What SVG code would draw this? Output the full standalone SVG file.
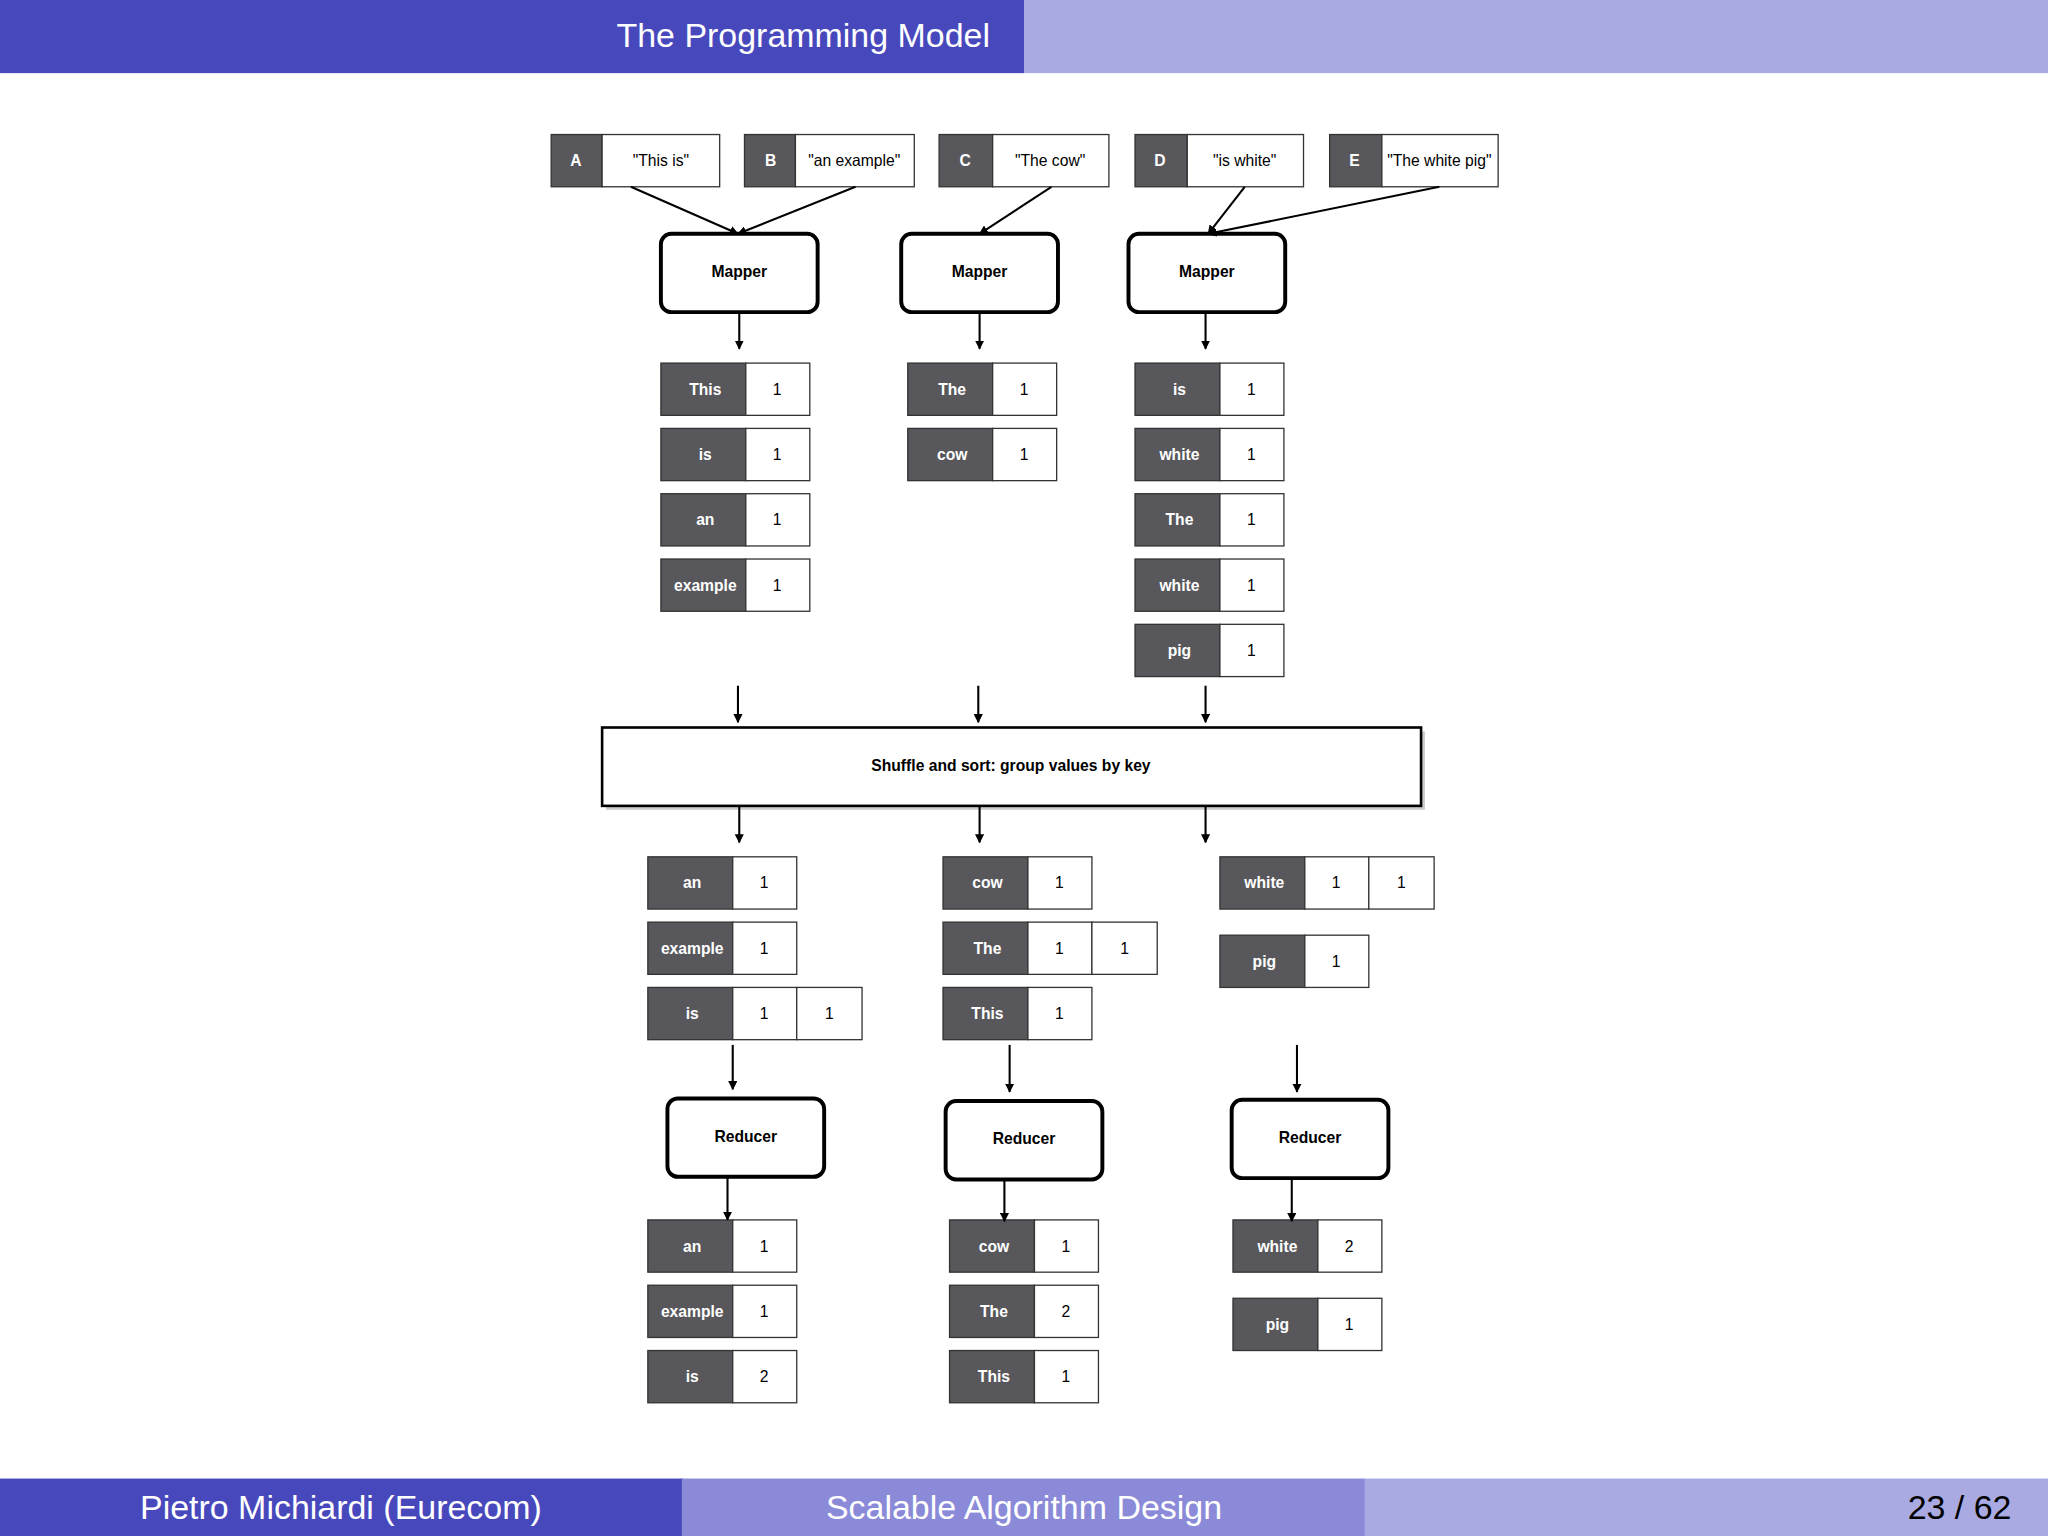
<svg xmlns="http://www.w3.org/2000/svg" width="2048" height="1536" viewBox="0 0 2048 1536">
<defs>
<marker id="ah" viewBox="0 0 10 10" refX="9" refY="5" markerWidth="7" markerHeight="7" orient="auto" markerUnits="userSpaceOnUse"><path d="M0,0 L10,5 L0,10 z" fill="#000"/></marker>
<style>
.k{fill:#58585c;stroke:#333;stroke-width:1}
.v{fill:#fff;stroke:#333;stroke-width:1}
.kt{font-family:"Liberation Sans",Arial,sans-serif;font-size:12px;font-weight:bold;fill:#fff;text-anchor:middle;dominant-baseline:central}
.vt{font-family:"Liberation Sans",Arial,sans-serif;font-size:12px;fill:#000;text-anchor:middle;dominant-baseline:central}
.box{fill:#fff;stroke:#000;stroke-width:3}
.bt{font-family:"Liberation Sans",Arial,sans-serif;font-size:12px;font-weight:bold;fill:#000;text-anchor:middle;dominant-baseline:central}
.c line{stroke:#000;stroke-width:1.6;marker-end:url(#ah)}
.hd{font-family:"Liberation Sans",Arial,sans-serif;font-size:26px;text-anchor:middle;dominant-baseline:central}
</style>
</defs>
<rect width="2048" height="1536" fill="#fff"/>
<g transform="scale(1.306122)">
<g id="header"><rect x="0" y="0" width="784" height="56" fill="#4848bd"/><rect x="784" y="0" width="784" height="56" fill="#aaaae2"/><text class="hd" x="615" y="27" fill="#fff">The Programming Model</text></g>
<g id="footer"><rect x="0" y="1132" width="523" height="44" fill="#4848bd"/><rect x="522" y="1132" width="523" height="44" fill="#8a8ad8"/><rect x="1045" y="1132" width="523" height="44" fill="#aaaae2"/>
<text class="hd" x="261" y="1154" fill="#fff">Pietro Michiardi  (Eurecom)</text><text class="hd" x="784" y="1154" fill="#fff">Scalable Algorithm Design</text><text class="hd" x="1540" y="1154" fill="#000" style="text-anchor:end">23 / 62</text></g>

<g id="inputs">
<rect class="k" x="422" y="103" width="39" height="40"/><rect class="v" x="461" y="103" width="90" height="40"/><text class="kt" x="441" y="123">A</text><text class="vt" x="506" y="123">"This is"</text>
<rect class="k" x="570" y="103" width="39" height="40"/><rect class="v" x="609" y="103" width="91" height="40"/><text class="kt" x="590" y="123">B</text><text class="vt" x="654" y="123">"an example"</text>
<rect class="k" x="719" y="103" width="41" height="40"/><rect class="v" x="760" y="103" width="89" height="40"/><text class="kt" x="739" y="123">C</text><text class="vt" x="804" y="123">"The cow"</text>
<rect class="k" x="869" y="103" width="40" height="40"/><rect class="v" x="909" y="103" width="89" height="40"/><text class="kt" x="888" y="123">D</text><text class="vt" x="953" y="123">"is white"</text>
<rect class="k" x="1018" y="103" width="40" height="40"/><rect class="v" x="1058" y="103" width="89" height="40"/><text class="kt" x="1037" y="123">E</text><text class="vt" x="1102" y="123">"The white pig"</text>
</g>
<g id="mappers">
<rect class="box" x="506" y="179" width="120" height="60" rx="8"/><text class="bt" x="566" y="208">Mapper</text>
<rect class="box" x="690" y="179" width="120" height="60" rx="8"/><text class="bt" x="750" y="208">Mapper</text>
<rect class="box" x="864" y="179" width="120" height="60" rx="8"/><text class="bt" x="924" y="208">Mapper</text>
</g>
<g id="map-out">
<rect class="k" x="506" y="278" width="65" height="40"/><rect class="v" x="571" y="278" width="49" height="40"/><text class="kt" x="540" y="298">This</text><text class="vt" x="595" y="298">1</text>
<rect class="k" x="506" y="328" width="65" height="40"/><rect class="v" x="571" y="328" width="49" height="40"/><text class="kt" x="540" y="348">is</text><text class="vt" x="595" y="348">1</text>
<rect class="k" x="506" y="378" width="65" height="40"/><rect class="v" x="571" y="378" width="49" height="40"/><text class="kt" x="540" y="398">an</text><text class="vt" x="595" y="398">1</text>
<rect class="k" x="506" y="428" width="65" height="40"/><rect class="v" x="571" y="428" width="49" height="40"/><text class="kt" x="540" y="448">example</text><text class="vt" x="595" y="448">1</text>
<rect class="k" x="695" y="278" width="65" height="40"/><rect class="v" x="760" y="278" width="49" height="40"/><text class="kt" x="729" y="298">The</text><text class="vt" x="784" y="298">1</text>
<rect class="k" x="695" y="328" width="65" height="40"/><rect class="v" x="760" y="328" width="49" height="40"/><text class="kt" x="729" y="348">cow</text><text class="vt" x="784" y="348">1</text>
<rect class="k" x="869" y="278" width="65" height="40"/><rect class="v" x="934" y="278" width="49" height="40"/><text class="kt" x="903" y="298">is</text><text class="vt" x="958" y="298">1</text>
<rect class="k" x="869" y="328" width="65" height="40"/><rect class="v" x="934" y="328" width="49" height="40"/><text class="kt" x="903" y="348">white</text><text class="vt" x="958" y="348">1</text>
<rect class="k" x="869" y="378" width="65" height="40"/><rect class="v" x="934" y="378" width="49" height="40"/><text class="kt" x="903" y="398">The</text><text class="vt" x="958" y="398">1</text>
<rect class="k" x="869" y="428" width="65" height="40"/><rect class="v" x="934" y="428" width="49" height="40"/><text class="kt" x="903" y="448">white</text><text class="vt" x="958" y="448">1</text>
<rect class="k" x="869" y="478" width="65" height="40"/><rect class="v" x="934" y="478" width="49" height="40"/><text class="kt" x="903" y="498">pig</text><text class="vt" x="958" y="498">1</text>
</g>
<g id="shuffle">
<rect x="464" y="560" width="627" height="60" fill="#ccc"/>
<rect x="461" y="557" width="627" height="60" fill="#fff" stroke="#000" stroke-width="2"/><text class="bt" x="774" y="586">Shuffle and sort: group values by key</text>
</g>
<g id="groups">
<rect class="k" x="496" y="656" width="65" height="40"/><rect class="v" x="561" y="656" width="49" height="40"/><text class="kt" x="530" y="676">an</text><text class="vt" x="585" y="676">1</text>
<rect class="k" x="496" y="706" width="65" height="40"/><rect class="v" x="561" y="706" width="49" height="40"/><text class="kt" x="530" y="726">example</text><text class="vt" x="585" y="726">1</text>
<rect class="k" x="496" y="756" width="65" height="40"/><rect class="v" x="561" y="756" width="49" height="40"/><rect class="v" x="610" y="756" width="50" height="40"/><text class="kt" x="530" y="776">is</text><text class="vt" x="585" y="776">1</text><text class="vt" x="635" y="776">1</text>
<rect class="k" x="722" y="656" width="65" height="40"/><rect class="v" x="787" y="656" width="49" height="40"/><text class="kt" x="756" y="676">cow</text><text class="vt" x="811" y="676">1</text>
<rect class="k" x="722" y="706" width="65" height="40"/><rect class="v" x="787" y="706" width="49" height="40"/><rect class="v" x="836" y="706" width="50" height="40"/><text class="kt" x="756" y="726">The</text><text class="vt" x="811" y="726">1</text><text class="vt" x="861" y="726">1</text>
<rect class="k" x="722" y="756" width="65" height="40"/><rect class="v" x="787" y="756" width="49" height="40"/><text class="kt" x="756" y="776">This</text><text class="vt" x="811" y="776">1</text>
<rect class="k" x="934" y="656" width="65" height="40"/><rect class="v" x="999" y="656" width="49" height="40"/><rect class="v" x="1048" y="656" width="50" height="40"/><text class="kt" x="968" y="676">white</text><text class="vt" x="1023" y="676">1</text><text class="vt" x="1073" y="676">1</text>
<rect class="k" x="934" y="716" width="65" height="40"/><rect class="v" x="999" y="716" width="49" height="40"/><text class="kt" x="968" y="736">pig</text><text class="vt" x="1023" y="736">1</text>
</g>
<g id="reducers">
<rect class="box" x="511" y="841" width="120" height="60" rx="8"/><text class="bt" x="571" y="870">Reducer</text>
<rect class="box" x="724" y="843" width="120" height="60" rx="8"/><text class="bt" x="784" y="872">Reducer</text>
<rect class="box" x="943" y="842" width="120" height="60" rx="8"/><text class="bt" x="1003" y="871">Reducer</text>
</g>
<g id="outputs">
<rect class="k" x="496" y="934" width="65" height="40"/><rect class="v" x="561" y="934" width="49" height="40"/><text class="kt" x="530" y="954">an</text><text class="vt" x="585" y="954">1</text>
<rect class="k" x="496" y="984" width="65" height="40"/><rect class="v" x="561" y="984" width="49" height="40"/><text class="kt" x="530" y="1004">example</text><text class="vt" x="585" y="1004">1</text>
<rect class="k" x="496" y="1034" width="65" height="40"/><rect class="v" x="561" y="1034" width="49" height="40"/><text class="kt" x="530" y="1054">is</text><text class="vt" x="585" y="1054">2</text>
<rect class="k" x="727" y="934" width="65" height="40"/><rect class="v" x="792" y="934" width="49" height="40"/><text class="kt" x="761" y="954">cow</text><text class="vt" x="816" y="954">1</text>
<rect class="k" x="727" y="984" width="65" height="40"/><rect class="v" x="792" y="984" width="49" height="40"/><text class="kt" x="761" y="1004">The</text><text class="vt" x="816" y="1004">2</text>
<rect class="k" x="727" y="1034" width="65" height="40"/><rect class="v" x="792" y="1034" width="49" height="40"/><text class="kt" x="761" y="1054">This</text><text class="vt" x="816" y="1054">1</text>
<rect class="k" x="944" y="934" width="65" height="40"/><rect class="v" x="1009" y="934" width="49" height="40"/><text class="kt" x="978" y="954">white</text><text class="vt" x="1033" y="954">2</text>
<rect class="k" x="944" y="994" width="65" height="40"/><rect class="v" x="1009" y="994" width="49" height="40"/><text class="kt" x="978" y="1014">pig</text><text class="vt" x="1033" y="1014">1</text>
</g>
<g id="connectors" class="c">
<line x1="483" y1="143" x2="565" y2="179"/><line x1="655" y1="143" x2="565" y2="179"/>
<line x1="805" y1="143" x2="750" y2="179"/><line x1="953" y1="143" x2="925" y2="179"/><line x1="1102" y1="143" x2="925" y2="179"/>
<line x1="566" y1="239" x2="566" y2="267"/><line x1="750" y1="239" x2="750" y2="267"/><line x1="923" y1="239" x2="923" y2="267"/>
<line x1="565" y1="525" x2="565" y2="553"/><line x1="749" y1="525" x2="749" y2="553"/><line x1="923" y1="525" x2="923" y2="553"/>
<line x1="566" y1="617" x2="566" y2="645"/><line x1="750" y1="617" x2="750" y2="645"/><line x1="923" y1="617" x2="923" y2="645"/>
<line x1="561" y1="800" x2="561" y2="834"/><line x1="773" y1="800" x2="773" y2="836"/><line x1="993" y1="800" x2="993" y2="836"/>
<line x1="557" y1="901" x2="557" y2="934"/><line x1="769" y1="903" x2="769" y2="935"/><line x1="989" y1="902" x2="989" y2="935"/>
</g>
</g>
</svg>
